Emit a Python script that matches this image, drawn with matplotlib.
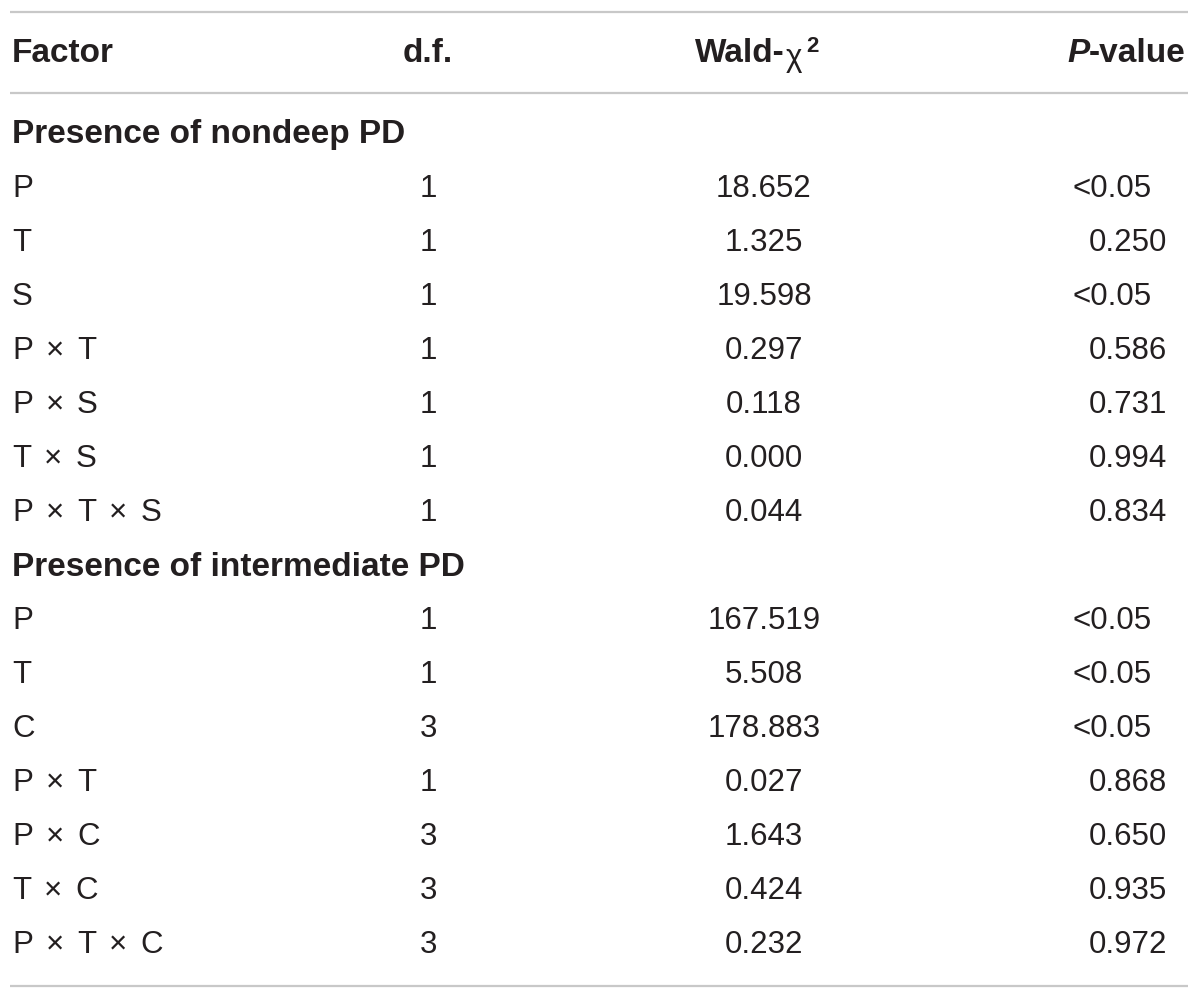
import matplotlib.pyplot as plt

# table content
header = ["Factor", "d.f.", "Wald-χ", "P-value"]
sections = ["Presence of nondeep PD", "Presence of intermediate PD"]

factors_1 = ["P", "T", "S", "P × T", "P × S", "T × S", "P × T × S"]
df_1 = ["1", "1", "1", "1", "1", "1", "1"]
wald_1 = ["18.652", "1.325", "19.598", "0.297", "0.118", "0.000", "0.044"]
pval_1 = ["<0.05", "0.250", "<0.05", "0.586", "0.731", "0.994", "0.834"]

factors_2 = ["P", "T", "C", "P × T", "P × C", "T × C", "P × T × C"]
df_2 = ["1", "1", "3", "1", "3", "3", "3"]
wald_2 = ["167.519", "5.508", "178.883", "0.027", "1.643", "0.424", "0.232"]
pval_2 = ["<0.05", "<0.05", "<0.05", "0.868", "0.650", "0.935", "0.972"]

W, H = 1200, 999
fig = plt.figure(figsize=(W / 100, H / 100), dpi=100)
ax = fig.add_axes([0, 0, 1, 1])
ax.set_xlim(0, W)
ax.set_ylim(H, 0)
ax.axis("off")

txt = "#231f20"
rule = "#c8c8c8"
fam = ["Liberation Sans", "DejaVu Sans"]
body = dict(fontsize=22.5, color=txt, family=fam, va="center")
bold = dict(body, fontsize=24, fontweight="bold")

x_fac, x_df, x_wald, x_p = 12, 428, 764, 1167

renderer = fig.canvas.get_renderer()
inv = ax.transData.inverted()


def right_edge(t):
    return inv.transform(t.get_window_extent(renderer).get_points())[1][0]


# rules
for y in [12, 93, 986]:
    ax.plot([10, 1188], [y, y], color=rule, lw=1.6, solid_capstyle="butt")

# header
ax.text(x_fac, 54, header[0], ha="left", **bold)
ax.text(x_df, 54, header[1], ha="center", **bold)

w1 = ax.text(695, 54, "Wald-", ha="left", **bold)
w2 = ax.text(right_edge(w1) + 1, 58, "χ", ha="left", **body)
ax.text(right_edge(w2) + 4, 47, "2", ha="left", fontsize=16, color=txt,
        family=fam, fontweight="bold", va="center")

pv = ax.text(1186, 54, "-value", ha="right", **bold)
x_start = inv.transform(pv.get_window_extent(renderer).get_points())[0][0]
ax.text(x_start, 54, "P", ha="right", style="italic", **bold)


def draw_factor(y, label):
    # terms spaced a bit wider than a normal space
    x = x_fac
    for tok in label.split(" "):
        t = ax.text(x, y, tok, ha="left", **body)
        x = right_edge(t) + 13


def draw_block(y0, title, factors, dfs, walds, pvals):
    ax.text(x_fac, y0, title, ha="left", **bold)
    for i in range(len(factors)):
        y = y0 + 54 * (i + 1)
        draw_factor(y, factors[i])
        ax.text(x_df, y, dfs[i], ha="center", **body)
        ax.text(x_wald, y, walds[i], ha="center", **body)
        if pvals[i].startswith("<"):
            ax.text(x_p - 15, y, pvals[i], ha="right", **body)
        else:
            ax.text(x_p, y, pvals[i], ha="right", **body)


draw_block(135, sections[0], factors_1, df_1, wald_1, pval_1)
draw_block(567, sections[1], factors_2, df_2, wald_2, pval_2)

fig.savefig("out.png", dpi=100, facecolor="white")
